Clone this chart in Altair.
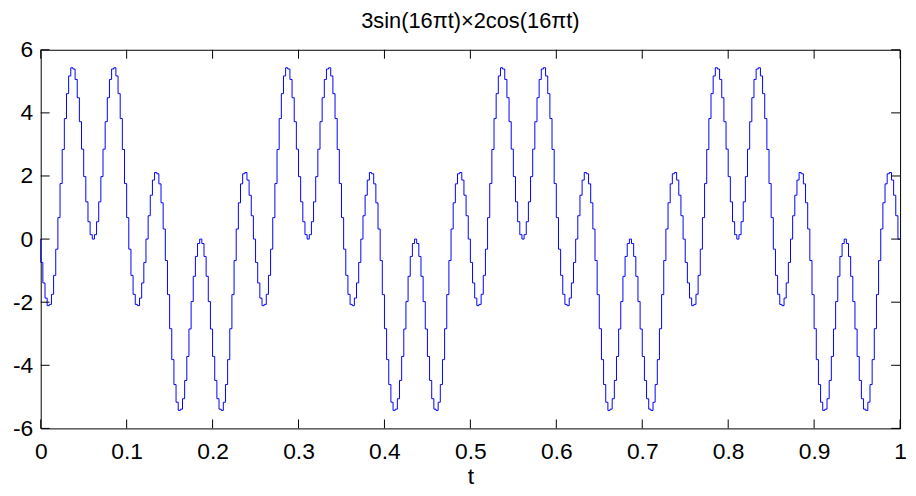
import altair as alt
import pandas as pd

# ---- data (stairs signal, one sample every 1/400 s) ----
SAMPLE_INTERVAL = 1 / 400
Y_VALUES = [
    # 0.00 - 0.25
    0, -0.74, -1.39, -1.87, -2.11, -2.07, -1.75, -1.15, -0.32, 0.68,
    1.76, 2.84, 3.82, 4.61, 5.17, 5.43, 5.39, 5.06, 4.48, 3.72,
    2.85, 1.98, 1.18, 0.55, 0.14, 0, 0.14, 0.55, 1.18, 1.98,
    2.85, 3.72, 4.48, 5.06, 5.39, 5.43, 5.17, 4.61, 3.82, 2.84,
    1.76, 0.68, -0.32, -1.15, -1.75, -2.07, -2.11, -1.87, -1.39, -0.74,
    0, 0.74, 1.39, 1.87, 2.11, 2.07, 1.75, 1.15, 0.32, -0.68,
    -1.76, -2.84, -3.82, -4.61, -5.17, -5.43, -5.39, -5.06, -4.48, -3.72,
    -2.85, -1.98, -1.18, -0.55, -0.14, 0, -0.14, -0.55, -1.18, -1.98,
    -2.85, -3.72, -4.48, -5.06, -5.39, -5.43, -5.17, -4.61, -3.82, -2.84,
    -1.76, -0.68, 0.32, 1.15, 1.75, 2.07, 2.11, 1.87, 1.39, 0.74,
    # 0.25 - 0.50
    0, -0.74, -1.39, -1.87, -2.11, -2.07, -1.75, -1.15, -0.32, 0.68,
    1.76, 2.84, 3.82, 4.61, 5.17, 5.43, 5.39, 5.06, 4.48, 3.72,
    2.85, 1.98, 1.18, 0.55, 0.14, 0, 0.14, 0.55, 1.18, 1.98,
    2.85, 3.72, 4.48, 5.06, 5.39, 5.43, 5.17, 4.61, 3.82, 2.84,
    1.76, 0.68, -0.32, -1.15, -1.75, -2.07, -2.11, -1.87, -1.39, -0.74,
    0, 0.74, 1.39, 1.87, 2.11, 2.07, 1.75, 1.15, 0.32, -0.68,
    -1.76, -2.84, -3.82, -4.61, -5.17, -5.43, -5.39, -5.06, -4.48, -3.72,
    -2.85, -1.98, -1.18, -0.55, -0.14, 0, -0.14, -0.55, -1.18, -1.98,
    -2.85, -3.72, -4.48, -5.06, -5.39, -5.43, -5.17, -4.61, -3.82, -2.84,
    -1.76, -0.68, 0.32, 1.15, 1.75, 2.07, 2.11, 1.87, 1.39, 0.74,
    # 0.50 - 0.75
    0, -0.74, -1.39, -1.87, -2.11, -2.07, -1.75, -1.15, -0.32, 0.68,
    1.76, 2.84, 3.82, 4.61, 5.17, 5.43, 5.39, 5.06, 4.48, 3.72,
    2.85, 1.98, 1.18, 0.55, 0.14, 0, 0.14, 0.55, 1.18, 1.98,
    2.85, 3.72, 4.48, 5.06, 5.39, 5.43, 5.17, 4.61, 3.82, 2.84,
    1.76, 0.68, -0.32, -1.15, -1.75, -2.07, -2.11, -1.87, -1.39, -0.74,
    0, 0.74, 1.39, 1.87, 2.11, 2.07, 1.75, 1.15, 0.32, -0.68,
    -1.76, -2.84, -3.82, -4.61, -5.17, -5.43, -5.39, -5.06, -4.48, -3.72,
    -2.85, -1.98, -1.18, -0.55, -0.14, 0, -0.14, -0.55, -1.18, -1.98,
    -2.85, -3.72, -4.48, -5.06, -5.39, -5.43, -5.17, -4.61, -3.82, -2.84,
    -1.76, -0.68, 0.32, 1.15, 1.75, 2.07, 2.11, 1.87, 1.39, 0.74,
    # 0.75 - 1.00
    0, -0.74, -1.39, -1.87, -2.11, -2.07, -1.75, -1.15, -0.32, 0.68,
    1.76, 2.84, 3.82, 4.61, 5.17, 5.43, 5.39, 5.06, 4.48, 3.72,
    2.85, 1.98, 1.18, 0.55, 0.14, 0, 0.14, 0.55, 1.18, 1.98,
    2.85, 3.72, 4.48, 5.06, 5.39, 5.43, 5.17, 4.61, 3.82, 2.84,
    1.76, 0.68, -0.32, -1.15, -1.75, -2.07, -2.11, -1.87, -1.39, -0.74,
    0, 0.74, 1.39, 1.87, 2.11, 2.07, 1.75, 1.15, 0.32, -0.68,
    -1.76, -2.84, -3.82, -4.61, -5.17, -5.43, -5.39, -5.06, -4.48, -3.72,
    -2.85, -1.98, -1.18, -0.55, -0.14, 0, -0.14, -0.55, -1.18, -1.98,
    -2.85, -3.72, -4.48, -5.06, -5.39, -5.43, -5.17, -4.61, -3.82, -2.84,
    -1.76, -0.68, 0.32, 1.15, 1.75, 2.07, 2.11, 1.87, 1.39, 0.74,
    0,
]
X_TICKS = [0, 0.1, 0.2, 0.3, 0.4, 0.5, 0.6, 0.7, 0.8, 0.9, 1]
Y_TICKS = [-6, -4, -2, 0, 2, 4, 6]
TITLE = "3sin(16\u03c0t)\u00d72cos(16\u03c0t)"
X_TITLE = "t"

# ---- build ----
df = pd.DataFrame({"t": [i * SAMPLE_INTERVAL for i in range(len(Y_VALUES))],
                   "y": Y_VALUES})
xt_df = pd.DataFrame({"t": X_TICKS})
yt_df = pd.DataFrame({"y": Y_TICKS})

W, H = 867, 382
TICK = 9
FONT = "Liberation Sans"
FS = 23

xs = alt.Scale(domain=[0, 1], nice=False, zero=False)
ys = alt.Scale(domain=[-6, 6], nice=False, zero=False)

x_axis = alt.Axis(
    values=X_TICKS, labelExpr="'' + datum.value", tickSize=0, grid=False,
    domain=False, title=X_TITLE, labelFont=FONT, labelFontSize=FS,
    labelColor="black", labelPadding=12, labelFlush=False,
    titleFont=FONT, titleFontSize=FS, titleFontWeight="normal",
    titleColor="black", titlePadding=3)
y_axis = alt.Axis(
    values=Y_TICKS, labelExpr="'' + datum.value", tickSize=0, grid=False,
    domain=False, title=None, labelFont=FONT, labelFontSize=FS,
    labelColor="black", labelPadding=8, labelFlush=False)

line = alt.Chart(df).mark_line(
    interpolate="step-before", color="#0000ff", strokeWidth=1
).encode(
    x=alt.X("t:Q", scale=xs, axis=x_axis, title=X_TITLE),
    y=alt.Y("y:Q", scale=ys, axis=y_axis, title=None),
)

xb = alt.Chart(xt_df).mark_rule(color="black", strokeWidth=1).encode(
    x=alt.X("t:Q", scale=xs, axis=x_axis, title=X_TITLE),
    y=alt.value(H), y2=alt.value(H - TICK))
xtp = alt.Chart(xt_df).mark_rule(color="black", strokeWidth=1).encode(
    x=alt.X("t:Q", scale=xs, axis=x_axis, title=X_TITLE),
    y=alt.value(0), y2=alt.value(TICK))
yl = alt.Chart(yt_df).mark_rule(color="black", strokeWidth=1).encode(
    y=alt.Y("y:Q", scale=ys, axis=y_axis, title=None),
    x=alt.value(0), x2=alt.value(TICK))
yr = alt.Chart(yt_df).mark_rule(color="black", strokeWidth=1).encode(
    y=alt.Y("y:Q", scale=ys, axis=y_axis, title=None),
    x=alt.value(W), x2=alt.value(W - TICK))

chart = alt.layer(line, xb, xtp, yl, yr).properties(
    width=W, height=H,
    title=alt.TitleParams(TITLE, font=FONT, fontSize=22, fontWeight="normal",
                          color="black", offset=6, anchor="middle"),
    autosize=alt.AutoSizeParams(type="none"),
    padding={"left": 33, "top": 40, "right": 8, "bottom": 60},
    background="white",
).configure_view(stroke="black", strokeWidth=1)

chart.save("out.html", embed_options={"renderer": "svg", "actions": False})
